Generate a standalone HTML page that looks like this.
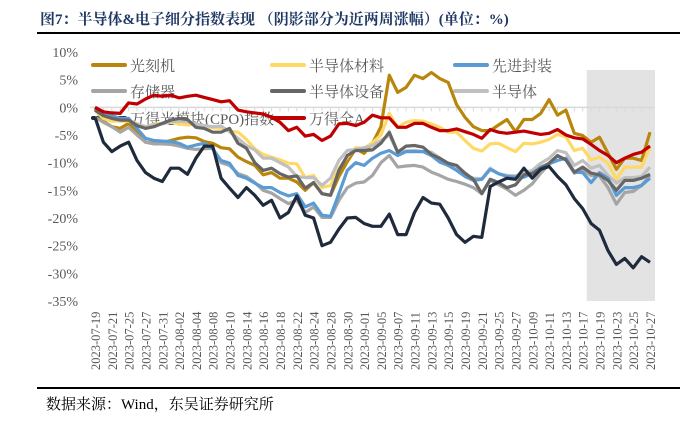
<!DOCTYPE html>
<html><head><meta charset="utf-8"><style>
body{margin:0;background:#fff;width:694px;height:416px;overflow:hidden;}
svg text{font-family:"Liberation Serif","Noto Serif CJK SC",serif;}
</style></head><body>
<svg id="chart" width="694" height="416" viewBox="0 0 694 416">
<text x="40" y="24" font-size="15" font-weight="bold" fill="#1f3864" style="font-family:'Liberation Serif','Noto Serif CJK SC',serif">图7：半导体&amp;电子细分指数表现 （阴影部分为近两周涨幅）(单位：%)</text>
<line x1="37" y1="33" x2="680" y2="33" stroke="#000" stroke-width="2"/>
<line x1="37" y1="388" x2="680" y2="388" stroke="#000" stroke-width="2"/>
<text x="46" y="409" font-size="15" fill="#000">数据来源：Wind，东吴证券研究所</text>
<g id="plot"></g>
</svg>
<script>
const categories=["2023-07-19","07-20","2023-07-21","07-24","2023-07-25","07-26","2023-07-27","07-28","2023-07-31","08-01","2023-08-02","08-03","2023-08-04","08-07","2023-08-08","08-09","2023-08-10","08-11","2023-08-14","08-15","2023-08-16","08-17","2023-08-18","08-21","2023-08-22","08-23","2023-08-24","08-25","2023-08-28","08-29","2023-08-30","08-31","2023-09-01","09-04","2023-09-05","09-06","2023-09-07","09-08","2023-09-11","09-12","2023-09-13","09-14","2023-09-15","09-18","2023-09-19","09-20","2023-09-21","09-22","2023-09-25","09-26","2023-09-27","09-28","2023-10-09","10-10","2023-10-11","10-12","2023-10-13","10-16","2023-10-17","10-18","2023-10-19","10-20","2023-10-23","10-24","2023-10-25","10-26","2023-10-27"];
const yTicks=[10,5,0,-5,-10,-15,-20,-25,-30,-35];
const litho=[-0.2,-2.5,-3.5,-3.8,-2.9,-4.5,-6.3,-6.5,-6.4,-6,-5.6,-5.4,-5.5,-6.2,-6.5,-7.3,-7.5,-9,-9.8,-10.5,-12.2,-11.8,-12.8,-12.8,-13.5,-15,-13.6,-15.6,-15.9,-12.5,-9.8,-7.5,-8.3,-6.5,-3.5,5.8,2.7,3.6,5.8,5.2,6.3,5.2,4.5,0.5,-1.8,-3.5,-4.2,-4.2,-3.2,-2.2,-4.4,-2.2,-2.2,-1.1,1.4,-1.4,-0.5,-4.7,-5.1,-6.3,-5.4,-8.3,-11.2,-9.2,-9.2,-9.6,-4.5];
const material=[-0.5,-2,-2.5,-2.5,-2.5,-3,-3.6,-3,-2.9,-2.7,-3,-3.2,-3,-3.5,-3.7,-3.8,-4.3,-4.5,-5.8,-7.5,-8.5,-9,-9.5,-10.1,-10.2,-12.7,-12.3,-14.5,-14.1,-11,-9,-7.3,-7.4,-6.4,-5,-1.1,-3.6,-2.7,-2.4,-2.5,-3,-3.6,-4.5,-4.5,-6,-7.4,-7.9,-6.6,-6.5,-7.3,-8,-6.5,-6.6,-6.3,-5.8,-4.9,-5.3,-7.8,-7.4,-9.5,-9,-10.1,-13,-10.8,-10.8,-10.8,-7.2];
const packaging=[-0.3,-1,-1.5,-2,-2,-3.8,-5.6,-6,-6.1,-6.2,-6.5,-7.2,-6.8,-6.5,-7.5,-9.6,-10.1,-12.3,-12.8,-13.7,-14.5,-14.5,-15.4,-16,-15.6,-18,-17.3,-19.5,-19.7,-15.6,-11.4,-10,-10.5,-9.2,-8.3,-7.8,-8.7,-8,-8,-8,-8.7,-9.9,-10.5,-11.4,-12.5,-13.2,-13,-11.2,-12,-12.5,-12.6,-12.6,-12,-10.8,-10.2,-9.6,-9.2,-11.7,-11.8,-13.6,-11.8,-12.8,-15.9,-14.5,-14.5,-14.1,-12.8];
const memory=[-1.8,-2.7,-3.5,-4.5,-3.6,-5,-6.3,-6.6,-6.6,-6.7,-7,-7.4,-7.6,-7.5,-7.4,-10,-10.5,-12,-12.5,-13.6,-15,-15.5,-16.5,-17.4,-16.8,-19,-18,-19.9,-19.9,-16.8,-14.5,-13.7,-13.5,-12.3,-10,-8.7,-10.8,-10.6,-10.5,-10.8,-11.7,-12.3,-13,-13.4,-13.9,-14.5,-15.6,-13.2,-14,-14.8,-15.9,-15,-13.8,-11.9,-10.3,-8.8,-9.5,-11.9,-11.4,-12.3,-12.4,-14.5,-17.5,-15.4,-15.2,-14.1,-12.3];
const equipment=[-0.5,-1.5,-2,-2.3,-2.3,-3.3,-3.8,-3.5,-2.9,-2.3,-2,-2.2,-3.6,-3.8,-4.5,-4.5,-3.8,-6.5,-7.4,-10,-11.4,-11,-12,-12.6,-12.4,-14.6,-13.6,-15.6,-15.9,-11.4,-8.7,-7.8,-7.8,-7.7,-6.5,-4.5,-8.1,-7,-6.9,-7.2,-8.5,-9.2,-10.1,-10.5,-11.9,-13,-15.6,-13,-13.6,-14.5,-14,-12.2,-11.9,-11,-10.1,-8.7,-9.5,-11.7,-10.8,-11.9,-12.2,-13.2,-15,-13.2,-13.2,-12.8,-12.1];
const semis=[-0.5,-1.5,-2,-2.2,-2.3,-3,-3.5,-3.2,-3,-2.6,-2.5,-2.6,-3,-3.3,-3.5,-3.4,-4.4,-5.6,-6.9,-7.7,-9.2,-9.2,-10,-10.8,-12.5,-12.7,-12.7,-14.1,-12.8,-9.6,-7.8,-7.6,-7.3,-6.9,-6,-5,-8.1,-7.9,-7.8,-8,-8.1,-9.2,-10.5,-11.2,-12.3,-12.8,-12.9,-11,-12,-12.3,-12.4,-11.8,-11.4,-10.1,-9.2,-7.8,-8.2,-10.5,-9.6,-11,-10.5,-12.3,-13.7,-12.7,-12.7,-12.5,-10.8];
const cpo=[-1.8,-6.3,-8,-7,-6.3,-9.6,-11.8,-12.8,-13.4,-11,-11,-12.1,-9.2,-7,-7,-12.8,-14.6,-16.3,-14.5,-15.9,-17.7,-16.8,-20,-19,-16,-19.5,-20,-25,-24.4,-22,-20,-19.9,-21,-21.5,-21.5,-19.3,-23,-23,-19,-16.3,-17.3,-17.5,-20,-23,-24.4,-23.3,-23.5,-14.3,-13.5,-12.8,-13,-11,-12.8,-11.2,-10.7,-12.5,-14,-16.5,-18.3,-21,-22.2,-25.9,-28.4,-27.3,-29,-27,-28];
const allA=[0,-0.8,-1,-1.1,0.8,0.6,1.5,2.2,2,2.2,1.7,2,2.2,1.8,1.4,1,1.2,-0.5,-0.8,-1,-1.2,-1.8,-2.7,-4.2,-3.6,-5.2,-4.9,-6,-5.2,-3,-2.9,-3.3,-2.7,-1.4,-1.9,-1.9,-3.6,-3.6,-2.9,-2.9,-3.6,-4.2,-4.2,-3.9,-4.4,-4.9,-5.6,-4,-4.5,-4.7,-4.5,-4.3,-4.6,-4.9,-4.7,-4,-5,-5.5,-5.7,-6.7,-7.8,-8.7,-10,-9.2,-8.5,-8.1,-7];
const shadeStart=58;

const NS="http://www.w3.org/2000/svg";
const plot=document.getElementById('plot');
const X0=95,X1=650,Y10=52,YM35=301;
function xs(i){return X0+i*(X1-X0)/(categories.length-1);}
function ys(v){return Y10+(10-v)*(YM35-Y10)/45;}
function mk(tag,attrs,parent){const e=document.createElementNS(NS,tag);for(const k in attrs)e.setAttribute(k,attrs[k]);(parent||plot).appendChild(e);return e;}

const sx=xs(shadeStart)+4;
const sh=mk('rect',{x:sx,y:ys(10)+18,width:X1+5-sx,height:ys(-35)-ys(10)-18,fill:'#e3e3e3'});



yTicks.forEach(t=>{
  const tx=mk('text',{x:78,y:ys(t)+5,'text-anchor':'end','font-size':14,fill:'#595959'});
  tx.textContent=t+'%';
  
  
});
const ax=mk('line',{x1:X0-5,x2:X1+5,y1:ys(0),y2:ys(0),stroke:'#d9d9d9','stroke-width':1.5});


categories.forEach((c,i)=>{
  const tk=mk('line',{x1:xs(i),x2:xs(i),y1:ys(0),y2:ys(0)+4,stroke:'#d9d9d9','stroke-width':1});
  
  
  if(i%2===0){
    const t=mk('text',{transform:`translate(${xs(i)+5},370) rotate(-90)`,'font-size':12.5,fill:'#595959'});
    t.textContent=c;
    
    
  }
});

const legend=[["光刻机","#b8860b",93,65],["半导体材料","#ffd966",272,65],["先进封装","#5b9bd5",455,65],["存储器","#a5a5a5",93,91],["半导体设备","#666666",272,91],["半导体","#c0c0c0",455,91],["万得光模块(CPO)指数","#1f2a3d",93,118],["万得全A","#c00000",272,118]];
legend.forEach(l=>{
  const g=mk('g',{});
  
  
  mk('line',{x1:l[2],x2:l[2]+32,y1:l[3],y2:l[3],stroke:l[1],'stroke-width':4,'stroke-linecap':'round'},g);
  const t=mk('text',{x:l[2]+37,y:l[3]+6,'font-size':15,fill:'#595959'},g);
  t.textContent=l[0];
});

const series=[["litho",litho,"#b8860b"],["material",material,"#ffd966"],["semis",semis,"#c0c0c0"],["memory",memory,"#a5a5a5"],["packaging",packaging,"#5b9bd5"],["equipment",equipment,"#666666"],["cpo",cpo,"#1f2a3d"],["all-a",allA,"#c00000"]];
series.forEach(s=>{
  const d=s[1].map((v,i)=>(i?'L':'M')+xs(i).toFixed(1)+','+ys(v).toFixed(1)).join('');
  const p=mk('path',{d:d,fill:'none',stroke:s[2],'stroke-width':3.2,'stroke-linejoin':'round'});
  
  
});
</script>
</body></html>
